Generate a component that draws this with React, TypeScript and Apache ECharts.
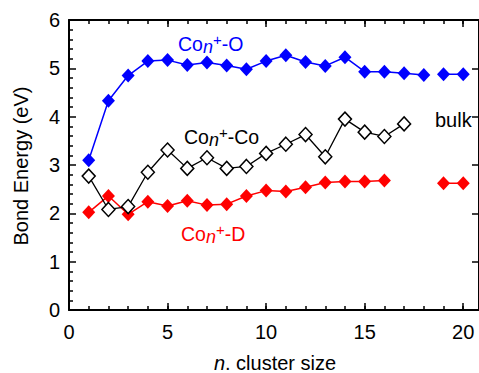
import React, { useEffect, useRef } from 'react';
import * as echarts from 'echarts';

// Co_n+-O
const oSize = [1, 2, 3, 4, 5, 6, 7, 8, 9, 10, 11, 12, 13, 14, 15, 16, 17, 18];
const oEnergy = [3.1, 4.33, 4.85, 5.15, 5.17, 5.07, 5.12, 5.06, 4.98, 5.15, 5.27, 5.13, 5.05, 5.23, 4.93, 4.93, 4.9, 4.86];
// Co_n+-Co
const coSize = [1, 2, 3, 4, 5, 6, 7, 8, 9, 10, 11, 12, 13, 14, 15, 16, 17];
const coEnergy = [2.77, 2.08, 2.14, 2.85, 3.31, 2.93, 3.15, 2.93, 2.97, 3.24, 3.43, 3.63, 3.17, 3.95, 3.68, 3.59, 3.85];
// Co_n+-D
const dSize = [1, 2, 3, 4, 5, 6, 7, 8, 9, 10, 11, 12, 13, 14, 15, 16];
const dEnergy = [2.02, 2.36, 1.98, 2.24, 2.15, 2.26, 2.17, 2.19, 2.36, 2.47, 2.45, 2.54, 2.64, 2.66, 2.66, 2.68];
// bulk values
const bulkSize = [19, 20];
const bulkO = [4.88, 4.88];
const bulkD = [2.62, 2.62];

const xTicksMajor = 5;
const yTicksMajor = 1;

const FONT = "'Liberation Sans', Arial, Helvetica, sans-serif";
const BLUE = '#0000ff';
const RED = '#ff0000';

const pairs = (xs: number[], ys: number[]) => xs.map((x, i) => [x, ys[i]]);

const labelRich = (color: string) => ({
  a: { fontSize: 19.5, fontFamily: FONT, fill: color, lineHeight: 24, verticalAlign: 'middle' },
  n: { fontSize: 18, fontFamily: FONT, fontStyle: 'italic', fill: color, lineHeight: 14, verticalAlign: 'bottom' },
  p: { fontSize: 15, fontFamily: FONT, fill: color, lineHeight: 14, verticalAlign: 'top' },
});

export default function App() {
  const ref = useRef<HTMLDivElement>(null);
  useEffect(() => {
    if (!ref.current) return;
    const chart = echarts.init(ref.current, undefined, { renderer: 'svg' });
    const axisLine = { show: true, onZero: false, lineStyle: { color: '#000', width: 2 } };
    const tickStyle = { color: '#000', width: 1.5 };
    const xBase = { type: 'value', min: 0, max: 20.8, splitLine: { show: false } };
    const diamond = (color: string) => ({
      type: 'line',
      symbol: 'diamond',
      symbolSize: [13, 14],
      lineStyle: { color, width: 1.5 },
      itemStyle: { color },
    });
    const option: any = {
      animation: false,
      grid: { left: 69, top: 20, right: -1, bottom: 63 },
      xAxis: [
        {
          ...xBase,
          position: 'bottom',
          interval: xTicksMajor,
          axisLine,
          axisTick: { inside: true, length: 7, lineStyle: tickStyle },
          axisLabel: { fontSize: 20, color: '#000', fontFamily: FONT, margin: 12, showMaxLabel: false },
        },
        {
          ...xBase,
          position: 'bottom',
          interval: 1,
          axisLine: { show: false, onZero: false },
          axisTick: { inside: true, length: 4, lineStyle: tickStyle },
          axisLabel: { show: false },
        },
        {
          ...xBase,
          position: 'top',
          interval: 1,
          axisLine,
          axisTick: { inside: true, length: 4, lineStyle: tickStyle },
          axisLabel: { show: false },
        },
        {
          ...xBase,
          position: 'top',
          interval: xTicksMajor,
          axisLine: { show: false, onZero: false },
          axisTick: { inside: true, length: 7, lineStyle: tickStyle },
          axisLabel: { show: false },
        },
      ],
      yAxis: [
        {
          type: 'value',
          position: 'left',
          min: 0,
          max: 6,
          interval: yTicksMajor,
          axisLine,
          axisTick: { inside: true, length: 7, lineStyle: tickStyle },
          minorTick: { show: true, splitNumber: 5, length: 4, lineStyle: tickStyle },
          axisLabel: { fontSize: 20, color: '#000', fontFamily: FONT, margin: 9 },
          splitLine: { show: false },
          minorSplitLine: { show: false },
        },
        {
          type: 'value',
          position: 'right',
          min: 0,
          max: 6,
          interval: yTicksMajor,
          axisLine,
          axisTick: { inside: true, length: 7, lineStyle: tickStyle },
          axisLabel: { show: false },
          splitLine: { show: false },
        },
      ],
      series: [
        { ...diamond(RED), name: 'D', data: pairs(dSize, dEnergy) },
        { ...diamond(RED), name: 'D bulk', data: pairs(bulkSize, bulkD) },
        {
          type: 'line',
          name: 'Co',
          symbol: 'diamond',
          symbolSize: [13, 14],
          lineStyle: { color: '#000', width: 1.3 },
          itemStyle: { color: '#fff', borderColor: '#000', borderWidth: 1.5 },
          data: pairs(coSize, coEnergy),
        },
        { ...diamond(BLUE), name: 'O', data: pairs(oSize, oEnergy) },
        { ...diamond(BLUE), name: 'O bulk', data: pairs(bulkSize, bulkO) },
      ],
      graphic: [
        {
          type: 'text',
          x: 178,
          y: 44,
          style: { text: '{a|Co}{n|n}{p|+}{a|-O}', rich: labelRich(BLUE), align: 'left', verticalAlign: 'middle' },
        },
        {
          type: 'text',
          x: 184,
          y: 137,
          style: { text: '{a|Co}{n|n}{p|+}{a|-Co}', rich: labelRich('#000'), align: 'left', verticalAlign: 'middle' },
        },
        {
          type: 'text',
          x: 181,
          y: 234,
          style: { text: '{a|Co}{n|n}{p|+}{a|-D}', rich: labelRich(RED), align: 'left', verticalAlign: 'middle' },
        },
        {
          type: 'text',
          x: 435,
          y: 120,
          style: { text: 'bulk', fontSize: 20, fontFamily: FONT, fill: '#000', align: 'left', verticalAlign: 'middle' },
        },
        {
          type: 'text',
          x: 275,
          y: 363,
          style: {
            text: '{i|n}{r|. cluster size}',
            rich: {
              i: { fontSize: 20, fontFamily: FONT, fontStyle: 'italic', fill: '#000' },
              r: { fontSize: 20, fontFamily: FONT, fill: '#000' },
            },
            align: 'center',
            verticalAlign: 'middle',
          },
        },
        {
          type: 'text',
          x: 21,
          y: 166,
          rotation: Math.PI / 2,
          style: { text: 'Bond Energy (eV)', fontSize: 20, fontFamily: FONT, fill: '#000', align: 'center', verticalAlign: 'middle' },
        },
      ],
    };
    chart.setOption(option);
    return () => chart.dispose();
  }, []);
  return <div ref={ref} style={{ position: 'absolute', left: 0, top: 0, width: 479, height: 373 }} />;
}
